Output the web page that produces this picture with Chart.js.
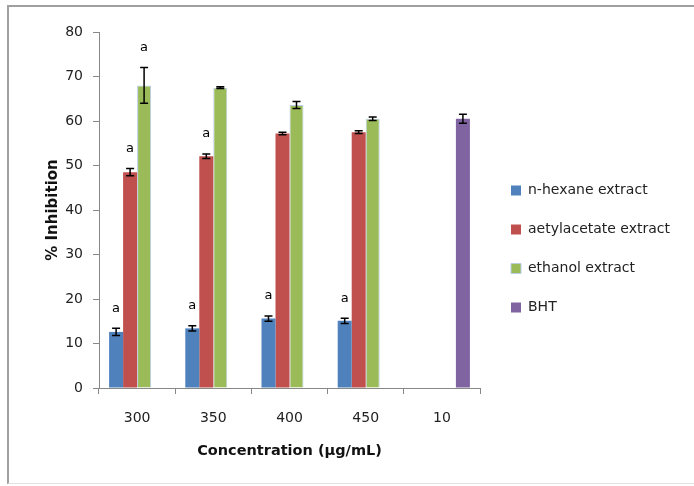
<!DOCTYPE html>
<html>
<head>
<meta charset="utf-8">
<script src="https://cdn.jsdelivr.net/npm/chart.js@4"></script>
<style>
  html, body { margin: 0; padding: 0; background: #fff; overflow: hidden; width: 694px; height: 486px; }
  #frame { position: absolute; left: 7px; top: 5px; width: 760px; height: 476px;
           border-left: 2px solid #a0a0a0; border-top: 2px solid #a0a0a0;
           border-bottom: 1px solid #e2e2e2; }
  #chart { position: absolute; left: 0; top: 0; }
</style>
</head>
<body>
<div id="frame"></div>
<canvas id="chart" width="694" height="486"></canvas>
<script>
// Categories on the x axis (concentration)
const categories = ['300', '350', '400', '450', '10'];

// % inhibition per extract
const hexane = [12.6, 13.4, 15.6, 15.1, null];
const hexaneErr = [0.8, 0.6, 0.6, 0.6, null];
const ethylAcetate = [48.5, 52.1, 57.2, 57.5, null];
const ethylAcetateErr = [0.8, 0.5, 0.3, 0.3, null];
const ethanol = [68.0, 67.5, 63.6, 60.5, null];
const ethanolErr = [4.0, 0.2, 0.8, 0.4, null];
const bht = [null, null, null, null, 60.5];
const bhtErr = [null, null, null, null, 1.0];

// Significance letters shown over the bars
const hexaneLetters = ['a', 'a', 'a', 'a', ''];
const ethylAcetateLetters = ['a', 'a', '', '', ''];
const ethanolLetters = ['a', '', '', '', ''];
const bhtLetters = ['', '', '', '', ''];

const yTicks = [0, 10, 20, 30, 40, 50, 60, 70, 80];

const errors = [hexaneErr, ethylAcetateErr, ethanolErr, bhtErr];
const letters = [hexaneLetters, ethylAcetateLetters, ethanolLetters, bhtLetters];

const FONT = 'DejaVu Sans';

// Draws the error bars and the letters on top of each bar
const errorBarPlugin = {
    id: 'errorBars',
    afterDatasetsDraw(chart) {
        const ctx = chart.ctx;
        const yScale = chart.scales.y;
        ctx.save();
        chart.data.datasets.forEach((ds, i) => {
            const meta = chart.getDatasetMeta(i);
            meta.data.forEach((bar, j) => {
                const v = ds.data[j];
                const e = errors[i][j];
                if (v === null || e === null) return;
                const yTop = yScale.getPixelForValue(v + e);
                const yBot = yScale.getPixelForValue(v - e);
                const x = bar.x;
                ctx.strokeStyle = '#000';
                ctx.lineWidth = 1.5;
                ctx.beginPath();
                ctx.moveTo(x, yTop); ctx.lineTo(x, yBot);
                ctx.moveTo(x - 4, yTop); ctx.lineTo(x + 4, yTop);
                ctx.moveTo(x - 4, yBot); ctx.lineTo(x + 4, yBot);
                ctx.stroke();
                const letter = letters[i][j];
                if (letter) {
                    ctx.fillStyle = '#000';
                    ctx.font = '13px ' + FONT;
                    ctx.textAlign = 'center';
                    ctx.textBaseline = 'middle';
                    ctx.fillText(letter, x, yTop - 20);
                }
            });
        });
        ctx.restore();
    }
};

// The legend is wider than Chart.js allows by default; widen it and nudge it
const legendBoxPlugin = {
    id: 'legendBox',
    afterInit(chart) {
        const legend = chart.legend;
        const fit = legend.fit;
        legend.fit = function () {
            fit.call(this);
            this.width = 214;
        };
    },
    afterLayout(chart) {
        const legend = chart.legend;
        legend.left += 6;
        legend.right += 6;
        legend.top -= 5;
        legend.bottom -= 5;
    }
};

new Chart(document.getElementById('chart'), {
    type: 'bar',
    data: {
        labels: categories,
        datasets: [
            { label: 'n-hexane extract', data: hexane, backgroundColor: '#4F81BD' },
            { label: 'aetylacetate extract', data: ethylAcetate, backgroundColor: '#C0504D' },
            { label: 'ethanol extract', data: ethanol, backgroundColor: '#9BBB59',
              borderColor: '#B9CDE5', borderWidth: 1 },
            { label: 'BHT', data: bht, backgroundColor: '#8064A2' }
        ]
    },
    options: {
        responsive: false,
        animation: false,
        categoryPercentage: 0.735,
        barPercentage: 1,
        layout: { padding: { left: 10, top: 32, right: 0, bottom: 10 } },
        plugins: {
            tooltip: { enabled: false },
            legend: {
                position: 'right',
                labels: {
                    boxWidth: 10, boxHeight: 10, padding: 25,
                    color: '#222',
                    font: { family: FONT, size: 14 }
                }
            }
        },
        scales: {
            x: {
                grid: { drawOnChartArea: false, drawTicks: true, tickLength: 6, color: '#888' },
                border: { color: '#888', width: 1 },
                ticks: { color: '#222', padding: 16, font: { family: FONT, size: 14 } },
                title: { display: true, text: 'Concentration (µg/mL)', color: '#111',
                         font: { family: FONT, size: 14.5, weight: 'bold' },
                         padding: { top: 4, bottom: 16 } },
                afterFit(scale) { scale.height = 88; }
            },
            y: {
                min: 0, max: 80,
                afterBuildTicks(scale) { scale.ticks = yTicks.map(v => ({ value: v })); },
                grid: { drawOnChartArea: false, drawTicks: true, tickLength: 6, color: '#888' },
                border: { color: '#888', width: 1 },
                ticks: { color: '#222', padding: 10, font: { family: FONT, size: 14 } },
                title: { display: true, text: '% Inhibition', color: '#111',
                         font: { family: FONT, size: 15, weight: 'bold' },
                         padding: { top: 34, bottom: 4 } },
                afterFit(scale) { scale.width = 89; }
            }
        }
    },
    plugins: [errorBarPlugin, legendBoxPlugin]
});
</script>
</body>
</html>
